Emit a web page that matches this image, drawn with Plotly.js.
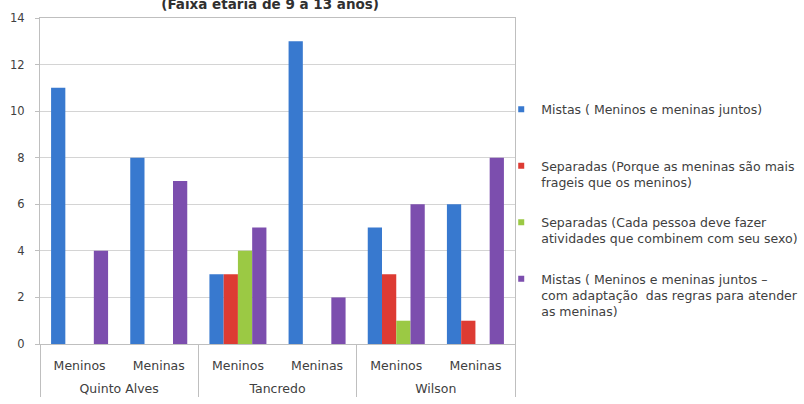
<!DOCTYPE html>
<html>
<head>
<meta charset="utf-8">
<script src="https://cdn.plot.ly/plotly-3.0.1.min.js"></script>
<style>
  html, body { margin: 0; padding: 0; background: #fff; }
  #chart { width: 804px; height: 404px; }
</style>
</head>
<body>
<div id="chart"></div>
<script>
// Schools and gender groups (two-level category axis)
const escolas = ['Quinto Alves', 'Quinto Alves', 'Tancredo', 'Tancredo', 'Wilson', 'Wilson'];
const generos = ['Meninos', 'Meninas', 'Meninos', 'Meninas', 'Meninos', 'Meninas'];

// Number of answers per option
const mistas = [11, 8, 3, 13, 5, 6];
const separadasFrageis = [0, 0, 3, 0, 3, 1];
const separadasSexo = [0, 0, 4, 0, 1, 0];
const mistasAdaptacao = [4, 7, 5, 2, 6, 8];

const nomes = [
  'Mistas ( Meninos e meninas juntos)<br>\u00a0',
  'Separadas (Porque as meninas são mais<br>frageis que os meninos)',
  'Separadas (Cada pessoa deve fazer<br>atividades que combinem com seu sexo)',
  'Mistas ( Meninos e meninas juntos –<br>com adaptação  das regras para atender<br>as meninas)'
];
const cores = ['#3879CF', '#DD3B33', '#9BC944', '#7C4EAE'];
const series = [mistas, separadasFrageis, separadasSexo, mistasAdaptacao];

const FAM = 'DejaVu Sans, Liberation Sans, sans-serif';

// inner labels get a blank line after them so the school row sits lower
const rotulosGenero = generos.map(g => g + '<br>\u00a0');

// bars
const traces = series.map((vals, i) => ({
  type: 'bar',
  x: [escolas, rotulosGenero],
  y: vals,
  name: nomes[i],
  showlegend: false,
  marker: { color: cores[i], line: { width: 0 } }
}));

// small square keys for the legend, on a hidden pair of axes
series.forEach((vals, i) => {
  traces.push({
    type: 'scatter',
    mode: 'markers',
    x: [null],
    y: [null],
    xaxis: 'x2',
    yaxis: 'y2',
    name: nomes[i],
    legendgroup: 'g' + i,
    hoverinfo: 'skip',
    marker: { color: cores[i], symbol: 'square', size: 6 }
  });
});

const fonte = { family: FAM, size: 12.5, color: '#404040' };

const layout = {
  width: 804,
  height: 404,
  margin: { l: 40, r: 289, t: 18, b: 60, autoexpand: false },
  paper_bgcolor: '#ffffff',
  plot_bgcolor: '#ffffff',
  barmode: 'group',
  bargap: 0.28,
  bargroupgap: 0,
  font: fonte,
  title: {
    text: '<b>(Faixa etária de 9 a 13 anos)</b>',
    font: { family: FAM, size: 13.5, color: '#303030' },
    x: 0.336,
    xanchor: 'center',
    yref: 'container',
    y: 0.99,
    yanchor: 'middle'
  },
  xaxis: {
    type: 'multicategory',
    showline: true,
    linecolor: '#bfbfbf',
    linewidth: 1,
    mirror: true,
    showdividers: true,
    dividercolor: '#bfbfbf',
    dividerwidth: 1,
    tickfont: fonte,
    ticks: '',
    ticklabelstandoff: 10,
    showgrid: false
  },
  yaxis: {
    range: [0, 14],
    dtick: 2,
    showline: true,
    linecolor: '#bfbfbf',
    linewidth: 1,
    mirror: true,
    ticks: 'outside',
    ticklen: 4,
    tickcolor: '#bfbfbf',
    ticklabelstandoff: 8,
    gridcolor: '#d4d4d4',
    gridwidth: 1,
    zeroline: false,
    tickfont: { family: FAM, size: 11.5, color: '#404040' }
  },
  xaxis2: { visible: false, overlaying: 'x', range: [0, 1] },
  yaxis2: { visible: false, overlaying: 'y', range: [0, 1] },
  legend: {
    x: 0.971,
    xanchor: 'left',
    y: 0.765,
    yanchor: 'top',
    traceorder: 'grouped',
    tracegroupgap: 21,
    valign: 'top',
    itemwidth: 30,
    font: { family: FAM, size: 12.5, color: '#404040' },
    bgcolor: 'rgba(0,0,0,0)'
  }
};

Plotly.newPlot('chart', traces, layout, { displayModeBar: false, staticPlot: true });
</script>
</body>
</html>
